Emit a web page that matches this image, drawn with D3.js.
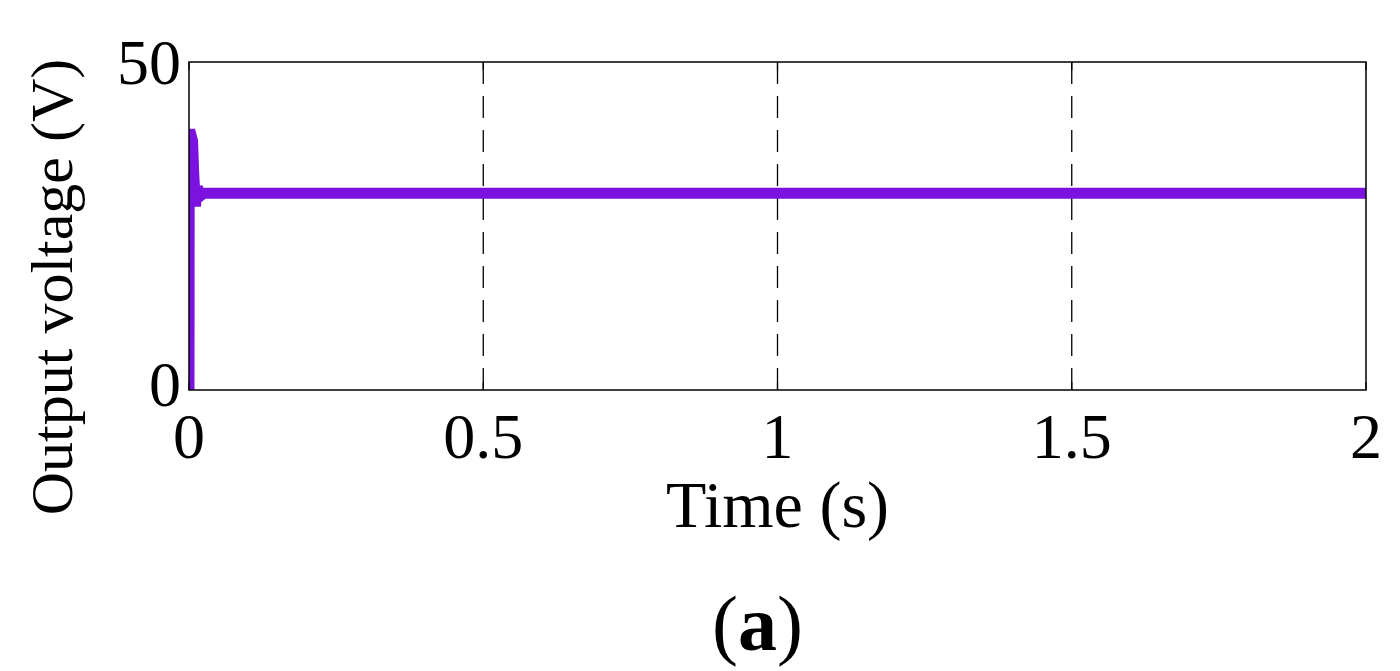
<!DOCTYPE html>
<html><head><meta charset="utf-8">
<script src="https://cdn.jsdelivr.net/npm/d3@7"></script>
<style>body{margin:0;background:#fff}text{font-family:"Liberation Serif",serif}</style>
</head><body><div id="chart"></div>
<script>
const timeS = [0, 0.0004, 0.003, 0.006, 0.008, 0.011, 0.014, 0.018, 0.025, 0.04, 2];
const voltage = [0, 39, 39, 38, 33, 28, 31, 29.5, 30, 30, 30];
const xTicks = [0, 0.5, 1, 1.5, 2];
const yTicks = [0, 50];
const gridX = [0.5, 1, 1.5];

const W = 1400, H = 671;
const margin = {top: 62, left: 189, right: 34, bottom: 281};

const svg = d3.select("#chart").append("svg").attr("width", W).attr("height", H);

const x = d3.scaleLinear().domain([0, 2]).range([margin.left, W - margin.right]);
const y = d3.scaleLinear().domain([0, 50]).range([H - margin.bottom, margin.top]);

svg.append("clipPath").attr("id", "clip").append("rect")
    .attr("x", x(0)).attr("y", y(50)).attr("width", x(2) - x(0)).attr("height", y(0) - y(50));

// dashed grid
svg.selectAll("line.grid").data(gridX).join("line")
    .attr("class", "grid")
    .attr("x1", d => x(d)).attr("x2", d => x(d))
    .attr("y1", y(50)).attr("y2", y(0))
    .attr("stroke", "#000").attr("stroke-width", 1.3)
    .attr("stroke-dasharray", "22,12");

// data line
const line = d3.line().x((d, i) => x(timeS[i])).y(d => y(d));
svg.append("path").datum(voltage)
    .attr("d", line)
    .attr("clip-path", "url(#clip)")
    .attr("fill", "none")
    .attr("stroke", "#7b12e0")
    .attr("stroke-width", 11)
    .attr("stroke-linejoin", "miter");

// frame
svg.append("rect")
    .attr("x", x(0)).attr("y", y(50))
    .attr("width", x(2) - x(0)).attr("height", y(0) - y(50))
    .attr("fill", "none").attr("stroke", "#000").attr("stroke-width", 1.5);

// inner ticks
svg.selectAll("line.xt").data(xTicks).join("line")
    .attr("x1", d => x(d)).attr("x2", d => x(d))
    .attr("y1", y(0)).attr("y2", y(0) - 8)
    .attr("stroke", "#000").attr("stroke-width", 1.2);
svg.selectAll("line.xt2").data(xTicks).join("line")
    .attr("x1", d => x(d)).attr("x2", d => x(d))
    .attr("y1", y(50)).attr("y2", y(50) + 8)
    .attr("stroke", "#000").attr("stroke-width", 1.2);

svg.selectAll("text.xl").data(xTicks).join("text")
    .attr("x", d => x(d)).attr("y", y(0) + 68)
    .attr("text-anchor", "middle").attr("font-size", 64)
    .text(d => d);

svg.selectAll("text.yl").data(yTicks).join("text")
    .attr("x", x(0) - 8).attr("y", d => y(d) + (d === 0 ? 16 : 22))
    .attr("text-anchor", "end").attr("font-size", 64)
    .text(d => d);

svg.append("text")
    .attr("x", (x(0) + x(2)) / 2).attr("y", 527)
    .attr("text-anchor", "middle").attr("font-size", 66)
    .text("Time (s)");

svg.append("text")
    .attr("transform", `translate(72,287) rotate(-90)`)
    .attr("text-anchor", "middle").attr("font-size", 60)
    .text("Output voltage (V)");

svg.append("text")
    .attr("x", (x(0) + x(2)) / 2 - 20).attr("y", 650)
    .attr("text-anchor", "middle").attr("font-size", 78)
    .html('(<tspan font-weight="bold">a</tspan>)');
</script></body></html>
